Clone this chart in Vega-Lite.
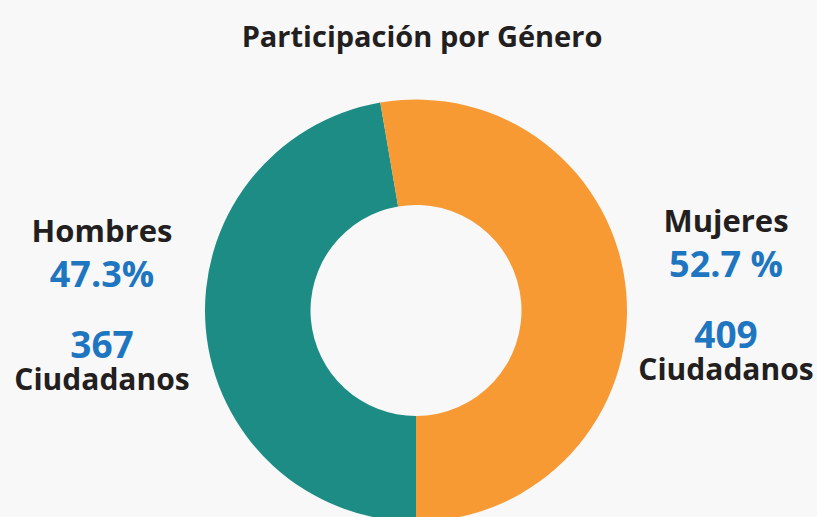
{
  "$schema": "https://vega.github.io/schema/vega-lite/v6.json",
  "width": 802,
  "height": 413,
  "autosize": {"type": "none"},
  "padding": {"left": 15, "top": 104, "right": 0, "bottom": 0},
  "background": "#f8f8f8",
  "title": {
    "text": "Participación por Género",
    "font": "Open Sans",
    "fontSize": 29,
    "fontWeight": "bold",
    "color": "#231f20",
    "anchor": "middle",
    "dx": 6,
    "offset": 47
  },
  "data": {
    "values": [
      {"genero": "Hombres", "valor": 367, "porcentaje": "47.3%"},
      {"genero": "Mujeres", "valor": 409, "porcentaje": "52.7 %"}
    ]
  },
  "config": {"view": {"stroke": null}},
  "layer": [
    {
      "mark": {"type": "arc", "outerRadius": 211, "innerRadius": 105.5},
      "encoding": {
        "theta": {"field": "valor", "type": "quantitative", "stack": true, "scale": {"range": [3.14159265, 9.42477796]}},
        "color": {
          "field": "genero",
          "type": "nominal",
          "scale": {"domain": ["Hombres", "Mujeres"], "range": ["#1c8c85", "#f79a34"]},
          "legend": null
        }
      }
    },
    {
      "mark": {"type": "text", "font": "Open Sans", "fontWeight": "bold", "fontSize": 31, "color": "#231f20", "baseline": "alphabetic", "align": "center", "dy": 0},
      "encoding": {
        "text": {"field": "genero", "type": "nominal"},
        "x": {"field": "genero", "type": "nominal", "scale": {"type": "point", "padding": 0, "domain": ["Hombres", "Mujeres"], "range": [87, 711]}, "axis": null},
        "y": {"field": "genero", "type": "nominal", "scale": {"type": "point", "padding": 0, "domain": ["Hombres", "Mujeres"], "range": [138, 128]}, "axis": null}
      }
    },
    {
      "mark": {"type": "text", "font": "Open Sans", "fontWeight": "bold", "fontSize": 36, "color": "#1e76c0", "baseline": "alphabetic", "align": "center", "dy": 45},
      "encoding": {
        "text": {"field": "porcentaje", "type": "nominal"},
        "x": {"field": "genero", "type": "nominal", "scale": {"type": "point", "padding": 0, "domain": ["Hombres", "Mujeres"], "range": [87, 711]}, "axis": null},
        "y": {"field": "genero", "type": "nominal", "scale": {"type": "point", "padding": 0, "domain": ["Hombres", "Mujeres"], "range": [138, 128]}, "axis": null}
      }
    },
    {
      "mark": {"type": "text", "font": "Open Sans", "fontWeight": "bold", "fontSize": 37, "color": "#1e76c0", "baseline": "alphabetic", "align": "center", "dy": 116},
      "encoding": {
        "text": {"field": "valor", "type": "quantitative"},
        "x": {"field": "genero", "type": "nominal", "scale": {"type": "point", "padding": 0, "domain": ["Hombres", "Mujeres"], "range": [87, 711]}, "axis": null},
        "y": {"field": "genero", "type": "nominal", "scale": {"type": "point", "padding": 0, "domain": ["Hombres", "Mujeres"], "range": [138, 128]}, "axis": null}
      }
    },
    {
      "mark": {"type": "text", "font": "Open Sans", "fontWeight": "bold", "fontSize": 30, "color": "#231f20", "baseline": "alphabetic", "align": "center", "dy": 148, "text": "Ciudadanos"},
      "encoding": {
        "x": {"field": "genero", "type": "nominal", "scale": {"type": "point", "padding": 0, "domain": ["Hombres", "Mujeres"], "range": [87, 711]}, "axis": null},
        "y": {"field": "genero", "type": "nominal", "scale": {"type": "point", "padding": 0, "domain": ["Hombres", "Mujeres"], "range": [138, 128]}, "axis": null}
      }
    }
  ]
}
